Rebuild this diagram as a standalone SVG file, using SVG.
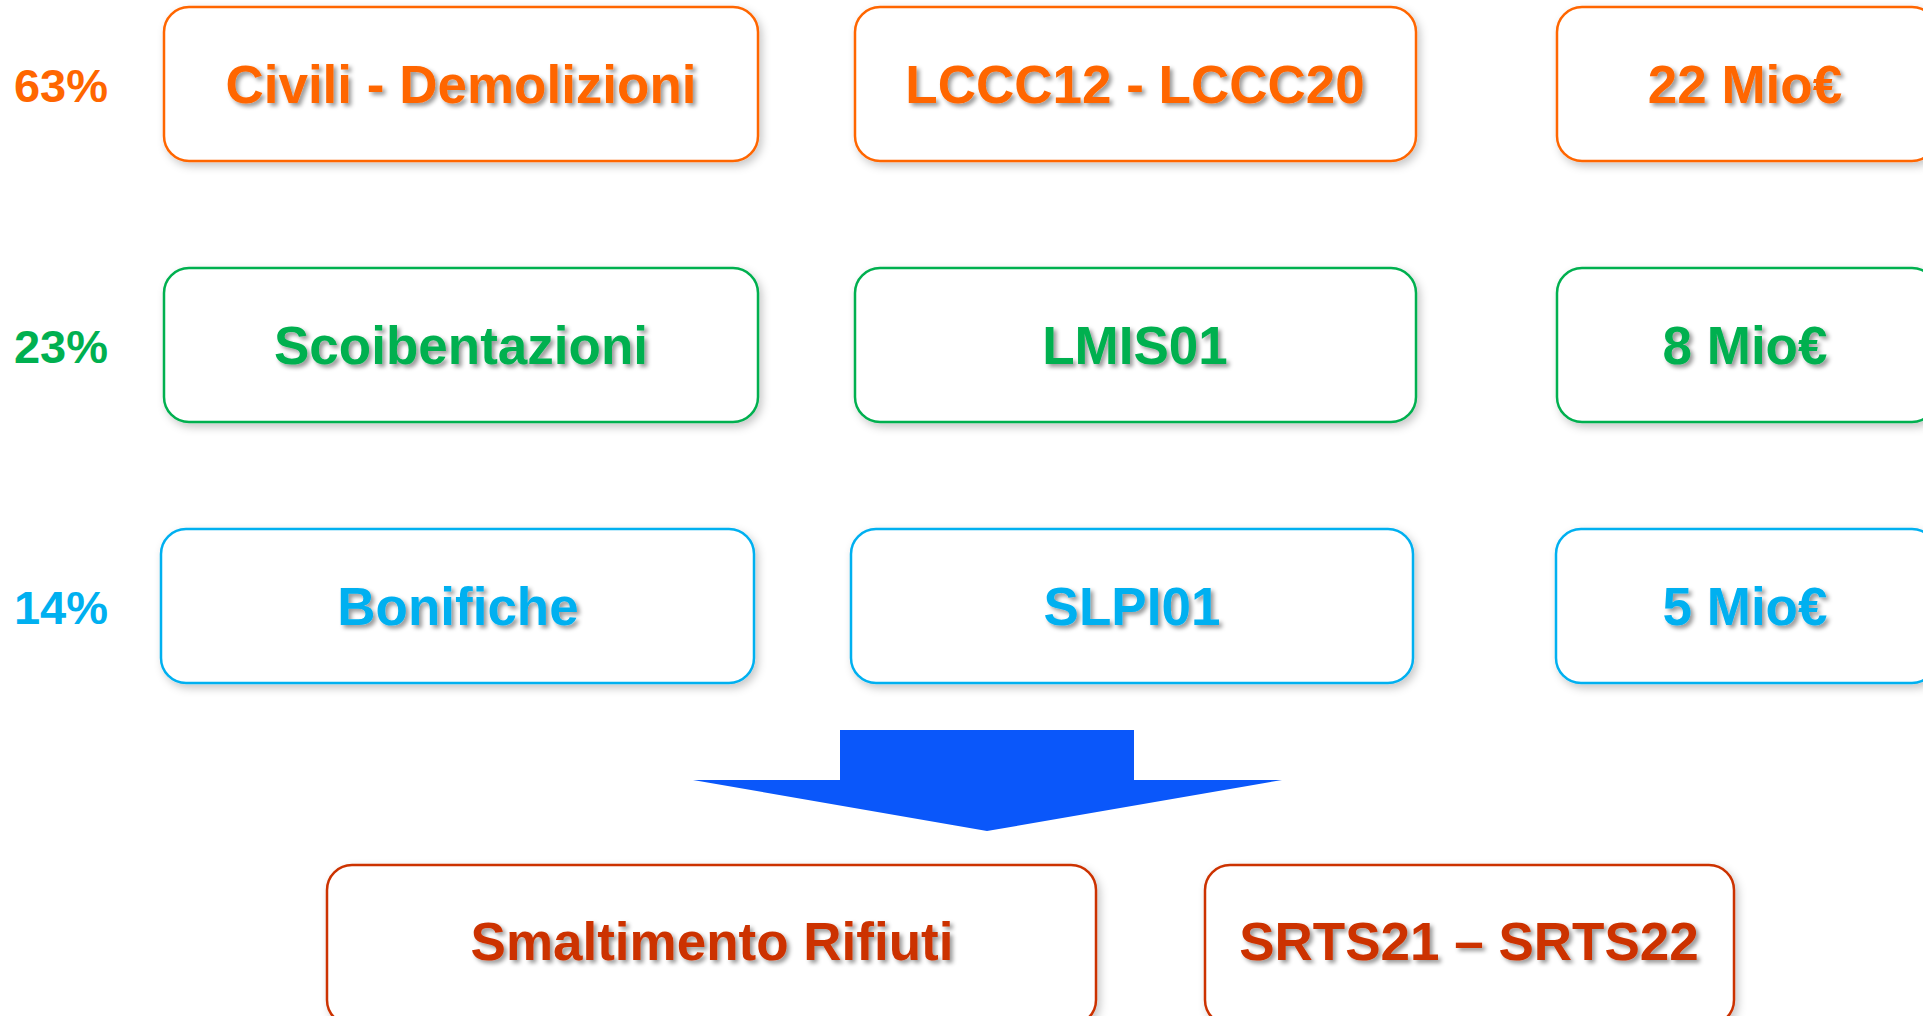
<svg xmlns="http://www.w3.org/2000/svg" width="1923" height="1016" viewBox="0 0 1923 1016">
<defs>
<filter id="bs" x="-10%" y="-20%" width="125%" height="150%">
<feDropShadow dx="3" dy="4" stdDeviation="4" flood-color="#000" flood-opacity="0.22"/>
</filter>
<filter id="ts" x="-10%" y="-30%" width="125%" height="170%">
<feDropShadow dx="3" dy="3" stdDeviation="2" flood-color="#000" flood-opacity="0.4"/>
</filter>
<style>
.box{fill:#fff;stroke-width:2.5;filter:url(#bs)}
.t{font-family:"Liberation Sans",Arial,sans-serif;font-weight:bold;font-size:53px;text-anchor:middle;filter:url(#ts)}
.p{font-family:"Liberation Sans",Arial,sans-serif;font-weight:bold;font-size:47px;text-anchor:middle}
.or{stroke:#FF6600}.orf{fill:#FF6600}
.gr{stroke:#00B050}.grf{fill:#00B050}
.bl{stroke:#00B0F0}.blf{fill:#00B0F0}
.rd{stroke:#CC3300}.rdf{fill:#CC3300}
</style>
</defs>
<rect width="1923" height="1016" fill="#fff"/>
<g id="labels">
<text class="p orf" x="61" y="102">63%</text>
<text class="p grf" x="61" y="363">23%</text>
<text class="p blf" x="61" y="624">14%</text>
</g>
<g id="n-civili"><rect class="box or" x="164" y="7" width="594" height="154" rx="25"/><text class="t orf" x="461" y="103">Civili - Demolizioni</text></g>
<g id="n-lccc"><rect class="box or" x="855" y="7" width="561" height="154" rx="25"/><text class="t orf" x="1135" y="103">LCCC12 - LCCC20</text></g>
<g id="n-22mio"><rect class="box or" x="1557" y="7" width="380" height="154" rx="25"/><text class="t orf" x="1745" y="103">22 Mio€</text></g>
<g id="n-scoib"><rect class="box gr" x="164" y="268" width="594" height="154" rx="25"/><text class="t grf" x="461" y="364">Scoibentazioni</text></g>
<g id="n-lmis"><rect class="box gr" x="855" y="268" width="561" height="154" rx="25"/><text class="t grf" x="1135" y="364">LMIS01</text></g>
<g id="n-8mio"><rect class="box gr" x="1557" y="268" width="380" height="154" rx="25"/><text class="t grf" x="1745" y="364">8 Mio€</text></g>
<g id="n-bonif"><rect class="box bl" x="161" y="529" width="593" height="154" rx="25"/><text class="t blf" x="458" y="625">Bonifiche</text></g>
<g id="n-slpi"><rect class="box bl" x="851" y="529" width="562" height="154" rx="25"/><text class="t blf" x="1132" y="625">SLPI01</text></g>
<g id="n-5mio"><rect class="box bl" x="1556" y="529" width="381" height="154" rx="25"/><text class="t blf" x="1745" y="625">5 Mio€</text></g>
<g id="connectors">
<polygon points="840,730 1134,730 1134,780 1282,780 987,831 693,780 840,780" fill="#0A57FA"/>
</g>
<g id="n-smalt"><rect class="box rd" x="327" y="865" width="769" height="160" rx="25"/><text class="t rdf" x="712" y="960">Smaltimento Rifiuti</text></g>
<g id="n-srts"><rect class="box rd" x="1205" y="865" width="529" height="160" rx="25"/><text class="t rdf" x="1469" y="960">SRTS21 – SRTS22</text></g>
</svg>
